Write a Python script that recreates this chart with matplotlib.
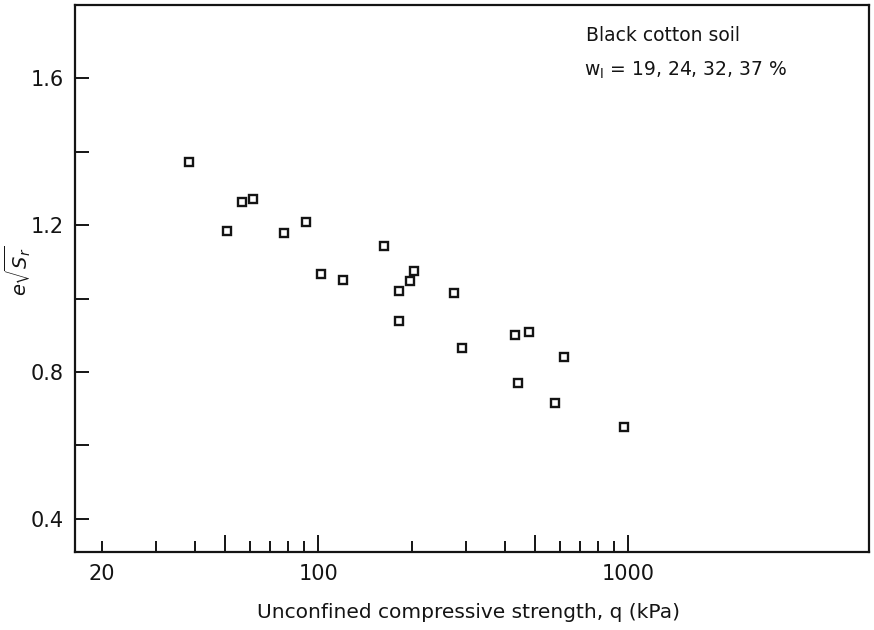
import matplotlib
matplotlib.use("Agg")
import matplotlib.pyplot as plt
from matplotlib.ticker import FixedLocator, FixedFormatter, NullFormatter

# Data
q_kpa = [38.3, 50.6, 56.8, 61.5, 77.6, 90.9, 101.7, 119.7, 163, 203, 197,
         182, 182, 274, 290, 430, 479, 439, 579, 619, 967]
e_sqrt_sr = [1.371, 1.183, 1.262, 1.272, 1.179, 1.208, 1.066, 1.050, 1.143,
             1.075, 1.049, 1.020, 0.940, 1.016, 0.864, 0.901, 0.909, 0.770,
             0.714, 0.840, 0.649]

x_long_ticks = [50, 100, 500, 1000]
x_long_labels = ["", "100", "", "1000"]
x_short_ticks = [20, 30, 40, 60, 70, 80, 90, 200, 300, 400, 600, 700, 800, 900]
x_short_labels = ["20"] + [""] * 13
y_major = [0.4, 0.8, 1.2, 1.6]
y_major_labels = ["0.4", "0.8", "1.2", "1.6"]
y_minor = [0.6, 1.0, 1.4]

plt.rcParams['font.family'] = ['DejaVu Sans']
ink = '#141414'
fig = plt.figure(figsize=(8.74, 6.30), dpi=100)
ax = fig.add_axes([0.0858, 0.1243, 0.9085, 0.8678])

ax.plot(q_kpa, e_sqrt_sr, linestyle='none', marker='s', markersize=5.8,
        markerfacecolor='white', markeredgecolor=ink, markeredgewidth=1.7)

ax.set_xscale('log')
ax.set_xlim(16.4, 5970)
ax.set_ylim(0.31, 1.80)

ax.xaxis.set_major_locator(FixedLocator(x_long_ticks))
ax.xaxis.set_major_formatter(FixedFormatter(x_long_labels))
ax.xaxis.set_minor_locator(FixedLocator(x_short_ticks))
ax.xaxis.set_minor_formatter(FixedFormatter(x_short_labels))
ax.yaxis.set_major_locator(FixedLocator(y_major))
ax.yaxis.set_major_formatter(FixedFormatter(y_major_labels))
ax.yaxis.set_minor_locator(FixedLocator(y_minor))
ax.yaxis.set_minor_formatter(NullFormatter())

ax.tick_params(axis='x', which='major', direction='in', length=12, width=1.4,
               labelsize=15, pad=9, colors=ink)
ax.tick_params(axis='x', which='minor', direction='in', length=8, width=1.4,
               labelsize=15, pad=9, colors=ink)
ax.tick_params(axis='y', which='both', direction='in', length=10, width=1.4,
               labelsize=15, pad=8, colors=ink)

for s in ax.spines.values():
    s.set_linewidth(1.6)
    s.set_color(ink)

fig.text(0.5355, 0.028, "Unconfined compressive strength, q (kPa)",
         fontsize=14.5, color=ink, ha='center', va='center')
fig.text(0.020, 0.571, r"$e\sqrt{S_r}$", fontsize=14, color=ink,
         ha='center', va='center', rotation=90)

fig.text(0.670, 0.943, "Black cotton soil", fontsize=13.5, color=ink,
         ha='left', va='center')
fig.text(0.668, 0.889, r"w$_\mathregular{l}$ = 19, 24, 32, 37 %",
         fontsize=13.5, color=ink, ha='left', va='center')

fig.savefig("out.png", dpi=100, facecolor='white')
